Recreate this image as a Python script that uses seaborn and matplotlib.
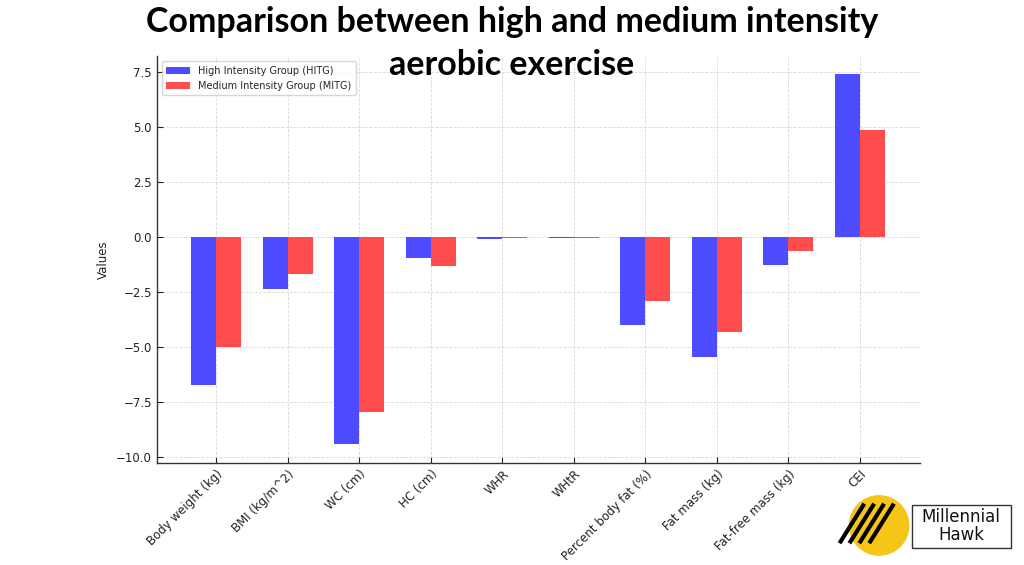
import seaborn as sns
import pandas as pd
import matplotlib.pyplot as plt
from matplotlib.patches import Circle, Rectangle

measures = ['Body weight (kg)', 'BMI (kg/m^2)', 'WC (cm)', 'HC (cm)', 'WHR', 'WHtR',
            'Percent body fat (%)', 'Fat mass (kg)', 'Fat-free mass (kg)', 'CEI']
hitg = [-6.73, -2.36, -9.4, -0.95, -0.07, -0.05, -4.0, -5.45, -1.27, 7.4]
mitg = [-5.0, -1.68, -7.95, -1.32, -0.05, -0.04, -2.9, -4.32, -0.64, 4.86]
groups = ['High Intensity Group (HITG)', 'Medium Intensity Group (MITG)']

df = pd.DataFrame({
    'Measure': measures * 2,
    'Value': hitg + mitg,
    'Group': [groups[0]] * len(measures) + [groups[1]] * len(measures),
})

sns.set_style('whitegrid')
plt.rcParams['font.family'] = ['DejaVu Sans']

fig = plt.figure(figsize=(10.24, 5.65), dpi=100)
ax = fig.add_axes([0.153, 0.181, 0.745, 0.72])

sns.barplot(data=df, x='Measure', y='Value', hue='Group', ax=ax,
            palette=['#4d4dff', '#ff4d4d'], saturation=1, width=0.7, errorbar=None,
            linewidth=0, edgecolor='none')

ax.grid(True, linestyle='--', color='#d9d9d9', linewidth=0.6)
ax.set_axisbelow(True)
for s in ['top', 'right']:
    ax.spines[s].set_visible(False)
for s in ['left', 'bottom']:
    ax.spines[s].set_color('#333333')
    ax.spines[s].set_linewidth(1.0)
ax.tick_params(direction='in', length=4, labelsize=8.5, colors='#222222',
               bottom=True, left=True)
ax.set_xticks(range(len(measures)))
ax.set_xticklabels(measures, rotation=45, ha='right', rotation_mode='anchor')
ax.set_xlabel('')
ax.set_ylabel('Values', fontsize=8.5, color='#222222')
ax.margins(x=0.05, y=0.05)

leg = ax.legend(loc='upper left', fontsize=7, title=None, frameon=True,
                handlelength=2.4, borderpad=0.5)
leg.get_frame().set_edgecolor('#cccccc')

# title sits over the top of the plot, as in the original
fig.text(0.5, 0.99, 'Comparison between high and medium intensity\naerobic exercise',
         ha='center', va='top', fontsize=24.5, fontweight='bold', family=['Lato'],
         linespacing=1.45, color='black')

# logo
logo = fig.add_axes([0.80, 0.0, 0.2, 0.14])
logo.set_xlim(0, 200)
logo.set_ylim(0, 80)
logo.set_aspect('equal')
logo.axis('off')
logo.add_patch(Circle((57, 40), 30, color='#f5c518'))
for dx in [-18, -8, 2, 12]:
    logo.plot([35 + dx, 60 + dx], [22, 62], color='black', lw=3, solid_capstyle='butt')
logo.add_patch(Rectangle((90, 17), 100, 44, fill=False, edgecolor='#333333', lw=1))
logo.text(140, 39, 'Millennial\nHawk', ha='center', va='center', fontsize=12,
          linespacing=1.0, color='#111111')

fig.savefig('out.png', dpi=100)
